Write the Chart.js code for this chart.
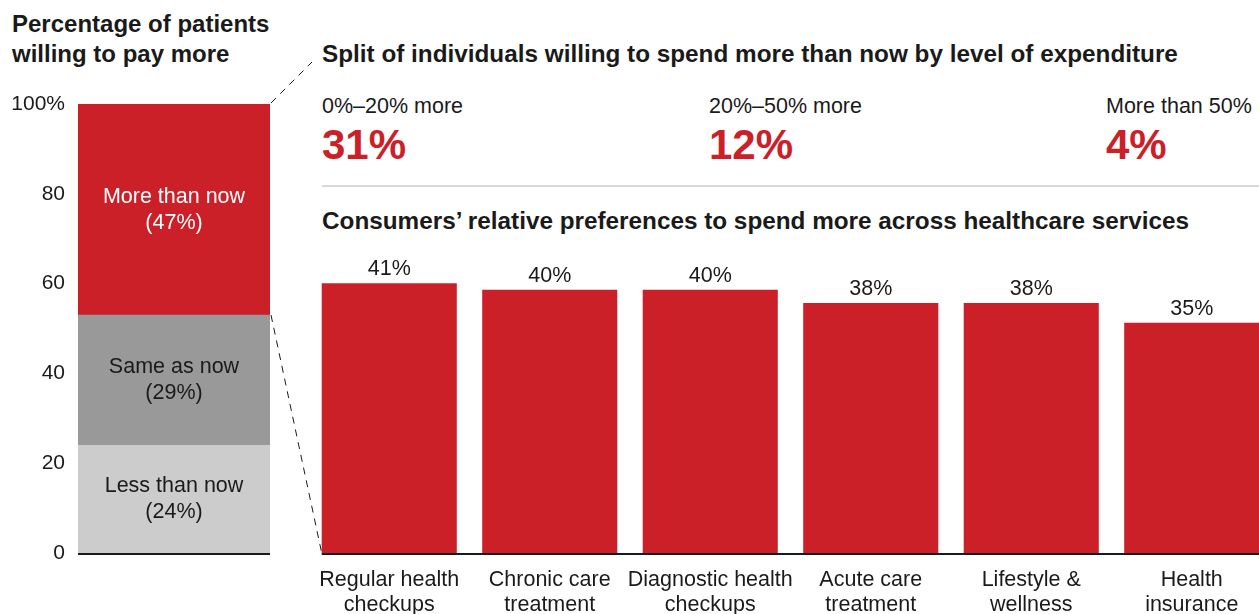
<!DOCTYPE html>
<html><head><meta charset="utf-8">
<script src="https://cdn.jsdelivr.net/npm/chart.js@4.4.0/dist/chart.umd.min.js"></script>
<style>
html,body{margin:0;padding:0;width:1259px;height:614px;overflow:hidden;background:#fff;font-family:'Liberation Sans',Arial,sans-serif;color:#1a1a1a}
.abs{position:absolute;white-space:nowrap}
.title{font-weight:bold;font-size:24px;line-height:30px}
.kl{font-size:21.5px;line-height:24px}
.kv{font-size:42px;line-height:47px;font-weight:bold;color:#cc2029}
</style></head><body>
<div class="abs title" style="left:12px;top:9px">Percentage of patients<br>willing to pay more</div>
<div class="abs title" style="left:322px;top:39px;font-size:24.3px">Split of individuals willing to spend more than now by level of expenditure</div>
<div id="kpis"></div>
<div class="abs" style="left:322px;top:185px;width:937px;height:2px;background:#d9d9d9"></div>
<div class="abs title" style="left:322px;top:206px;font-size:24.3px">Consumers’ relative preferences to spend more across healthcare services</div>
<canvas id="left" width="272" height="480" style="position:absolute;left:0;top:90px;width:272px;height:480px"></canvas>
<canvas id="right" width="963" height="414" style="position:absolute;left:309px;top:200px;width:963px;height:414px"></canvas>
<svg id="conn" width="1259" height="614" style="position:absolute;left:0;top:0;pointer-events:none"></svg>
<script>
// ---- data ----
const stackLabel = ['All patients'];
const seriesNames = ['Less than now', 'Same as now', 'More than now'];
const lessThanNow = [24];
const sameAsNow = [29];
const moreThanNow = [47];
const yTicksLeft = [0, 20, 40, 60, 80, 100];

const kpiLabels = ['0%–20% more', '20%–50% more', 'More than 50%'];
const kpiValues = [31, 12, 4];

const services = [['Regular health', 'checkups'], ['Chronic care', 'treatment'], ['Diagnostic health', 'checkups'], ['Acute care', 'treatment'], ['Lifestyle &', 'wellness'], ['Health', 'insurance']];
const servicePrefs = [41, 40, 40, 38, 38, 35];

// ---- style ----
const RED = '#cc2029', GRAY = '#999999', LGRAY = '#cccccc', INK = '#1a1a1a';
const FONT = "'Liberation Sans', Arial, sans-serif";
const noPad = s => { s.paddingTop = 0; s.paddingBottom = 0; s.paddingLeft = 0; s.paddingRight = 0; };

// KPIs
const kpiX = [322, 709, 1106];
const kDiv = document.getElementById('kpis');
kpiLabels.forEach((l, i) => {
  const a = document.createElement('div');
  a.className = 'abs kl'; a.style.left = kpiX[i] + 'px'; a.style.top = '94px'; a.textContent = l;
  const b = document.createElement('div');
  b.className = 'abs kv'; b.style.left = kpiX[i] + 'px'; b.style.top = '121px'; b.textContent = kpiValues[i] + '%';
  kDiv.appendChild(a); kDiv.appendChild(b);
});

const leftPlugin = {
  id: 'leftLabels',
  afterDatasetsDraw(chart) {
    const ctx = chart.ctx;
    ctx.save();
    ctx.font = '21.5px ' + FONT;
    ctx.textAlign = 'center';
    ctx.textBaseline = 'alphabetic';
    chart.data.datasets.forEach((ds, di) => {
      const el = chart.getDatasetMeta(di).data[0];
      const cy = (el.y + el.base) / 2;
      ctx.fillStyle = di === 2 ? '#ffffff' : INK;
      ctx.fillText(ds.label, el.x, cy - 7);
      ctx.fillText('(' + ds.data[0] + '%)', el.x, cy + 19);
    });
    const a = chart.chartArea;
    ctx.strokeStyle = INK; ctx.lineWidth = 2;
    ctx.beginPath(); ctx.moveTo(a.left, a.bottom + 1); ctx.lineTo(a.right, a.bottom + 1); ctx.stroke();
    ctx.restore();
  }
};

const leftChart = new Chart(document.getElementById('left'), {
  type: 'bar',
  data: {
    labels: stackLabel,
    datasets: [
      { label: seriesNames[0], data: lessThanNow, backgroundColor: LGRAY },
      { label: seriesNames[1], data: sameAsNow, backgroundColor: GRAY },
      { label: seriesNames[2], data: moreThanNow, backgroundColor: RED }
    ]
  },
  options: {
    responsive: false, animation: false,
    layout: { padding: { top: 14, bottom: 17, left: 0, right: 2 } },
    datasets: { bar: { barPercentage: 1, categoryPercentage: 1, borderWidth: 0 } },
    plugins: { legend: { display: false }, tooltip: { enabled: false } },
    scales: {
      x: { stacked: true, display: false },
      y: {
        stacked: true, min: 0, max: 100,
        afterFit: s => { s.width = 78; noPad(s); },
        afterBuildTicks: s => { s.ticks = yTicksLeft.map(v => ({ value: v })); },
        grid: { display: false, drawTicks: false },
        border: { display: false },
        ticks: { padding: 13, color: INK, font: { family: FONT, size: 21 }, callback: v => v === 100 ? '100%' : String(v) }
      }
    }
  },
  plugins: [leftPlugin]
});

const rightPlugin = {
  id: 'rightLabels',
  afterDatasetsDraw(chart) {
    const ctx = chart.ctx;
    const meta = chart.getDatasetMeta(0);
    ctx.save();
    ctx.font = '21.5px ' + FONT;
    ctx.fillStyle = INK;
    ctx.textAlign = 'center';
    ctx.textBaseline = 'alphabetic';
    meta.data.forEach((el, i) => {
      ctx.fillText(chart.data.datasets[0].data[i] + '%', el.x, el.y - 8);
    });
    const b0 = meta.data[0];
    const a = chart.chartArea;
    ctx.strokeStyle = INK; ctx.lineWidth = 2;
    ctx.beginPath(); ctx.moveTo(b0.x - b0.width / 2, a.bottom + 1); ctx.lineTo(chart.width, a.bottom + 1); ctx.stroke();
    ctx.restore();
  }
};

const rightChart = new Chart(document.getElementById('right'), {
  type: 'bar',
  data: {
    labels: services,
    datasets: [{ label: 'Relative preference', data: servicePrefs, backgroundColor: RED, borderWidth: 0, barPercentage: 0.8417, categoryPercentage: 1 }]
  },
  options: {
    responsive: false, animation: false,
    layout: { padding: { top: 24, bottom: 0, left: 0, right: 0 } },
    plugins: { legend: { display: false }, tooltip: { enabled: false } },
    scales: {
      y: { display: false, min: 0, max: 50 },
      x: {
        afterFit: s => { s.height = 61; noPad(s); },
        grid: { display: false, drawTicks: false },
        border: { display: false },
        ticks: { padding: 15, color: INK, maxRotation: 0, autoSkip: false, font: { family: FONT, size: 21.5, lineHeight: 1.15 } }
      }
    }
  },
  plugins: [rightPlugin]
});

// connector dashed lines
(function () {
  const svg = document.getElementById('conn');
  const lTop = 90, lLeft = 0, rTop = 200, rLeft = 309;
  const la = leftChart.chartArea, ys = leftChart.scales.y;
  const bx = lLeft + la.right + 1;
  const y100 = lTop + ys.getPixelForValue(lessThanNow[0] + sameAsNow[0] + moreThanNow[0]);
  const ySplit = lTop + ys.getPixelForValue(lessThanNow[0] + sameAsNow[0]);
  const b0 = rightChart.getDatasetMeta(0).data[0];
  const rx = rLeft + b0.x - b0.width / 2;
  const ry = rTop + rightChart.chartArea.bottom;
  const mk = (x1, y1, x2, y2) => {
    const l = document.createElementNS('http://www.w3.org/2000/svg', 'line');
    l.setAttribute('x1', x1); l.setAttribute('y1', y1); l.setAttribute('x2', x2); l.setAttribute('y2', y2);
    l.setAttribute('stroke', INK); l.setAttribute('stroke-width', '1'); l.setAttribute('stroke-dasharray', '7 6');
    svg.appendChild(l);
  };
  mk(bx, y100 - 1, 312, 62);
  mk(bx, ySplit, rx, ry);
})();
</script>
</body></html>
